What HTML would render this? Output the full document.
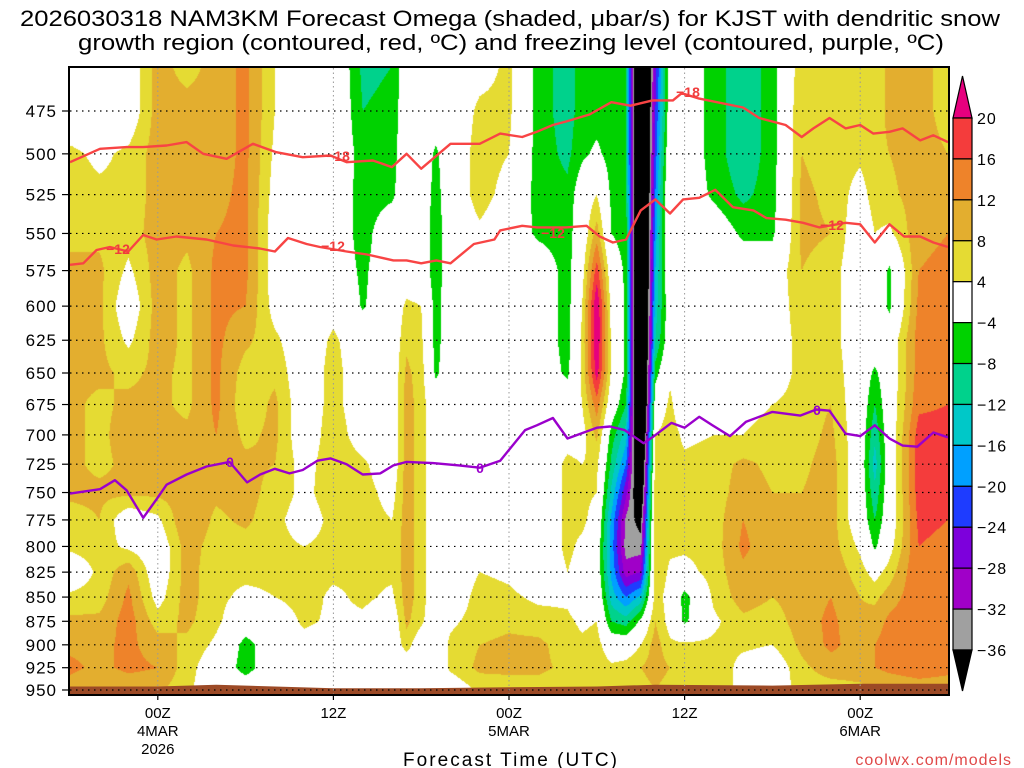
<!DOCTYPE html>
<html><head><meta charset="utf-8">
<style>
html,body{margin:0;padding:0;background:#fff;width:1024px;height:768px;overflow:hidden}
#wrap{position:relative;width:1024px;height:768px}
#field{position:absolute;left:70px;top:68px}
#ov{position:absolute;left:0;top:0}
text{font-family:"Liberation Sans",sans-serif}
</style></head><body>
<div id="wrap">
<canvas id="field" width="878" height="626"></canvas>
<svg id="ov" width="1024" height="768"></svg>
</div>
<script>
// ---- data ----
const levels = [450,475,500,525,550,575,600,625,650,675,700,725,750,775,800,825,850,875,900,925,950];
const hours = [0,2,4,6,8,10,12,14,16,18,20,22,23,24,25,26,28,30,32,34,35,36,37,38,39,40,41,42,44,46,48,50,52,54,55,56,58,60];
const omegaColumns = [
[0,0,5,6,7,9,9,9,9,9,9,9,9,6,5,0,5,9,11,13,10],
[0,0,3,5,7,9,9,9,9,7,7,7,9,8,6,5,6,9,11,11,8],
[0,0,5,5,6,3,0,3,7,9,10,9,9,0,3,11,13,14,13,13,9],
[10,10,10,10,10,10,10,10,9,9,9,9,9,3,0,0,2,6,10,12,9],
[6,10,10,10,9,7,7,7,7,7,9,10,10,12,10,10,10,9,7,6,5],
[10,10,10,11,12,13,13,13,13,13,12,10,9,7,6,5,5,5,3,0,0],
[13,13,13,13,13,13,12,9,6,5,7,9,10,9,6,5,3,0,-6,-6,0],
[4,4,3,2,1,1,2,5,7,9,9,8,6,5,5,5,4,0,0,0,0],
[0,0,0,0,0,0,0,0,0,0,0,2,3,2,4,6,6,5,2,0,0],
[2,2,1,0,0,0,2,5,6,6,7,7,6,5,5,5,3,3,0,0,0],
[-9,-8,-6,-6,-6,-5,-4.5,0,0,0,1,5,6,6,5,5,5,3,0,0,0],
[-8,-7,-6,-5,0,0,0,0,0,0,0,0,2,4,5,5,3,0,0,0,0],
[0,0,0,0,0,0,5,7,9,10,10,10,10,10,10,10,10,9,6,0,0],
[0,0,0,0,0,0,4,5,6,6,6,6,6,6,6,6,6,5,0,0,0],
[0,0,-5,-6,-7,-7,-6,-6,-5,0,0,0,0,0,0,0,0,0,0,0,0],
[0,0,0,0,0,0,0,0,0,0,0,0,0,0,0,0,0,3,5,5,0],
[2,5,6,6,3,0,0,0,0,0,0,0,0,0,0,4,6,6,8,9,5],
[5,5,4,2,0,0,0,0,0,0,0,0,0,0,0,3,5,7,9,9,6],
[-6,-6,-6,-6,-5,0,0,0,0,0,0,0,0,0,0,0,3,6,9,9,6],
[-10,-10,-9,-7,-6,-6,-6,-6,-5,0,2,5,5,5,5,4,3,5,6,7,5],
[-6,-6,-5,0,0,2,4,5,5,4,2,4,5,5,3,2,0,3,5,7,5],
[-6,-6,-3,4,10,18,24,24,22,14,9,5,4,2,0,0,2,4,6,7,5],
[-6,-6,-6,-5,-4,0,2,3,3,0,-6,-9,-13,-17,-18,-17,-14,-8,0,5,5],
[-8,-8,-8,-7,-6,-5,-5,-5,-5,-8,-14,-20,-27,-33,-34,-30,-20,-10,0,6,6],
[-60,-60,-60,-60,-60,-60,-60,-60,-60,-60,-55,-50,-45,-38,-34,-28,-15,-3,4,8,6],
[-26,-24,-22,-20,-18,-16,-14,-12,-6,0,4,6,8,8,8,8,6,8,10,10,8],
[0,0,2,4,4,2,0,0,3,5,6,6,6,6,5,3,2,2,5,8,6],
[0,0,0,0,0,0,0,0,0,0,3,5,6,8,5,2,-6,-5,5,8,6],
[-6,-6,-6,-5,0,0,0,0,0,0,4,6,6,6,6,6,5,3,5,8,6],
[-11,-11,-11,-9,-5,0,0,0,0,2,4,9,10,12,13,11,10,7,5,2,3],
[-6,-6,-6,-6,-5,0,0,0,0,4,6,7,8,9,9,9,8,6,4,0,0],
[7,8,8,9,9,8,7,6,6,6,6,7,8,9,10,10,10,10,9,7,6],
[6,6,6,7,8,6,6,6,7,8,9,10,10,10,10,11,12,13,13,10,6],
[6,6,5,2,0,0,0,0,0,0,0,0,0,0,3,6,8,9,10,10,7],
[6,6,7,6,4,2,0,0,-5,-8,-11,-14,-11,-8,-5,2,7,10,12,12,8],
[9,9,8,7,3,-5,-5,0,0,0,0,0,0,0,2,6,10,13,14,13,9],
[10,10,10,10,11,12,13,14,14,15,18,18,18,17,16,16,15,15,15,14,10],
[6,6,8,10,12,13,14,14,15,16,18,18,17,16,15,14,14,15,14,13,10]
];
const red18Hours = [0,2.05,3.87,5,6.6,7.97,9.1,10.7,12.5,14.1,15.9,17.8,18.9,20.7,22,23,24,26,28,29.4,30.9,31.9,33,33.9,35.5,37,38.3,39.8,41.2,41.8,43,46,47.1,48.9,50,50.8,51.9,53,54,54.9,56,56.9,58.1,59,60];
const red18P = [505,497,496,496,495,493,500,503,494,499,502,501,505,504,508,500,509,494,494,488,490,487,483,481,477,470,472,469,469,465,468,473,479,483,490,485,479,485,483,488,487,485,492,489,493];
const red12Hours = [0,0.91,1.82,2.73,3.98,5.0,5.92,7.28,9.33,11.15,12.97,14.0,14.9,16.17,17.08,18.9,20.3,22.1,23.0,24.0,25.04,26.0,27.6,29.0,29.4,30.9,31.9,33.9,35.3,36.2,37.1,38.0,39.0,40.0,41.0,41.9,43.0,44.1,45.3,46.7,47.6,48.9,50.1,51.2,53.0,54.0,55.0,56.0,57.0,58.1,59.0,60];
const red12P = [571,570,561,559,562,551,554,552,554,558,560,562,553,557,559,562,564,568,568,570,568,570,557,554,548,545,546,546,545,552,556,554,535,528,537,528,527,522,533,535,540,541,543,546,543,544,556,544,552,552,556,559];
const frzHours = [0,2.05,3.07,3.87,5.0,5.92,6.6,7.97,9.33,10.9,12.1,13.0,14.0,15.0,15.9,16.9,17.8,18.9,20.0,21.2,22.1,23.0,24.8,26.6,28.0,29.4,31.1,31.9,33.0,34.0,36.0,36.9,37.9,39.2,39.8,41.1,42.0,43.0,43.9,45.1,46.2,48.0,49.9,51.0,51.9,53.0,54.0,55.0,56.0,56.9,57.9,59.0,60];
const frzP = [751,747,739,748,773,756,743,734,727,723,741,734,729,733,730,722,720,725,734,733,726,723,724,726,728,722,696,692,686,703,694,693,696,707,702,690,694,685,692,701,689,681,684,679,680,699,701,692,703,709,710,698,702];
const sfcHours = [0,6,10,14,18,24,30,36,40,48,54,60];
const sfcP = [946,946,944,946,948,948,947,946,944,945,943,943];
const yTicks = [475,500,525,550,575,600,625,650,675,700,725,750,775,800,825,850,875,900,925,950];
const xTickHours = [6,18,30,42,54];
const xTickLabels = [["00Z","4MAR","2026"],["12Z"],["00Z","5MAR"],["12Z"],["00Z","6MAR"]];
const cbBounds = [20,16,12,8,4,-4,-8,-12,-16,-20,-24,-28,-32,-36];
const cbColors = ["#f43c3c","#ee832a","#e3ae2f","#e5db33","#ffffff","#00d200","#00d28c","#00c8c8","#00a0ff","#1e3cff","#7d00dc","#a000c8","#a0a0a0"];
const overColor = "#e6007e", underColor = "#000000";

// ---- scales ----
const PL=70, PR=948, PT=68, PB=694;
function xS(h){return PL + h*(PR-PL)/60;}
function yS(p){return 111 + Math.log(p/475)*835.3;}
function colorFor(v){
  if(v>20) return overColor;
  if(v<-36) return underColor;
  for(let i=0;i<cbBounds.length-1;i++){ if(v<=cbBounds[i] && v>cbBounds[i+1]) return cbColors[i]; }
  return "#ffffff";
}
function hex(c){return [parseInt(c.substr(1,2),16),parseInt(c.substr(3,2),16),parseInt(c.substr(5,2),16)];}

// ---- shading ----
(function(){
  const cv=document.getElementById('field'), ctx=cv.getContext('2d');
  const W=cv.width,H=cv.height, img=ctx.createImageData(W,H);
  const lnL=levels.map(Math.log);
  const rowIdx=[],rowF=[];
  for(let y=0;y<H;y++){
    const lp=Math.log(475)+((PT+y+0.5)-111)/835.3;
    let i=0; while(i<lnL.length-2 && lp>lnL[i+1]) i++;
    let f=(lp-lnL[i])/(lnL[i+1]-lnL[i]); f=Math.max(0,Math.min(1,f));
    rowIdx.push(i); rowF.push(f);
  }
  const cache={};
  for(let x=0;x<W;x++){
    const h=(x+0.5)*60/W;
    let j=0; while(j<hours.length-2 && h>hours[j+1]) j++;
    let g=(h-hours[j])/(hours[j+1]-hours[j]); g=Math.max(0,Math.min(1,g));
    const A=omegaColumns[j],B=omegaColumns[j+1];
    for(let y=0;y<H;y++){
      const i=rowIdx[y],f=rowF[y];
      const a=A[i]*(1-f)+A[i+1]*f, b=B[i]*(1-f)+B[i+1]*f;
      const v=a*(1-g)+b*g;
      const c=colorFor(v); const rgb=cache[c]||(cache[c]=hex(c));
      const k=(y*W+x)*4; img.data[k]=rgb[0];img.data[k+1]=rgb[1];img.data[k+2]=rgb[2];img.data[k+3]=255;
    }
  }
  ctx.putImageData(img,0,0);
})();

// ---- svg overlay ----
const NS="http://www.w3.org/2000/svg", svg=document.getElementById('ov');
function mk(tag,attrs,parent){const e=document.createElementNS(NS,tag);for(const k in attrs)e.setAttribute(k,attrs[k]);(parent||svg).appendChild(e);return e;}
function txt(s,attrs,parent){const e=mk('text',attrs,parent);e.textContent=s;return e;}

// surface
let sp='M'+xS(0)+','+PB;
sfcHours.forEach((h,i)=>{sp+=' L'+xS(h).toFixed(1)+','+yS(sfcP[i]).toFixed(1);});
sp+=' L'+xS(60)+','+PB+' Z';
const sfc=mk('path',{d:sp,fill:'#9c4a26'});



// grid
const grid=mk('g',{});


yTicks.forEach(p=>{mk('line',{x1:PL,x2:PR,y1:yS(p),y2:yS(p),stroke:'#000','stroke-width':1.2,'stroke-dasharray':'1.5,4.5'},grid);});
xTickHours.forEach(h=>{mk('line',{x1:xS(h),x2:xS(h),y1:PT,y2:PB,stroke:'#999','stroke-width':1,'stroke-dasharray':'1.5,3'},grid);});

// contour lines
function line(hs,ps,color,name){
  let d=''; hs.forEach((h,i)=>{d+=(i?' L':'M')+xS(h).toFixed(1)+','+yS(ps[i]).toFixed(1);});
  const e=mk('path',{d:d,fill:'none',stroke:color,'stroke-width':2.4,'stroke-linejoin':'round'});
  
  
}
line(red18Hours,red18P,'#f84444','contour-minus18');
line(red12Hours,red12P,'#f84444','contour-minus12');
line(frzHours,frzP,'#9a00cc','freezing-level-0');
const cl=[["-18",338,161,'#f03c3c'],["-18",688,97,'#f03c3c'],["-12",118,254,'#f03c3c'],["-12",333,251,'#f03c3c'],["-12",553,238,'#f03c3c'],["-12",832,230,'#f03c3c'],["0",230,467,'#9a00cc'],["0",480,473,'#9a00cc'],["0",817,415,'#9a00cc']];
cl.forEach(c=>{const t=txt(c[0].replace('-','\u2212'),{x:c[1],y:c[2],'text-anchor':'middle','font-size':14,'font-weight':'bold',fill:c[3]});

});

// frame
const fr=mk('rect',{x:PL-1,y:PT-1,width:PR-PL+2,height:PB-PT+2,fill:'none',stroke:'#000','stroke-width':2});



// y ticks
yTicks.forEach(p=>{
  mk('line',{x1:62,x2:PL,y1:yS(p),y2:yS(p),stroke:'#000','stroke-width':1.2});
  const t=txt(String(p),{x:57,y:yS(p)+6,'text-anchor':'end','font-size':17,'letter-spacing':1,fill:'#000'});
  
  
});
// x ticks
xTickHours.forEach((h,i)=>{
  mk('line',{x1:xS(h),x2:xS(h),y1:PB,y2:PB+6,stroke:'#000','stroke-width':1.2});
  xTickLabels[i].forEach((s,k)=>{
    const t=txt(s,{x:xS(h),y:718+k*18,'text-anchor':'middle','font-size':15,fill:'#000'});
    
    
  });
});
const xt=txt('Forecast Time (UTC)',{x:510,y:766,'text-anchor':'middle','font-size':19,textLength:214,fill:'#000'});


const cr=txt('coolwx.com/models',{x:1012,y:765,'text-anchor':'end','font-size':16,'letter-spacing':1,fill:'#e04848'});


const t1=txt('2026030318 NAM3KM Forecast Omega (shaded, \u03bcbar/s) for KJST with dendritic snow',{x:20,y:26,'font-size':22,textLength:980,lengthAdjust:'spacingAndGlyphs',fill:'#000'});


const t2=txt('growth region (contoured, red, \u00baC) and freezing level (contoured, purple, \u00baC)',{x:78,y:50,'font-size':22,textLength:866,lengthAdjust:'spacingAndGlyphs',fill:'#000'});



// colorbar
const cb=mk('g',{});


const cbx=953,cbw=19,cbTop=118,cbH=(650-118)/(cbBounds.length-1);
mk('polygon',{points:cbx+','+cbTop+' '+(cbx+cbw)+','+cbTop+' '+(cbx+cbw/2)+',76',fill:overColor,stroke:'#000','stroke-width':1.2},cb);
cbColors.forEach((c,i)=>{mk('rect',{x:cbx,y:cbTop+i*cbH,width:cbw,height:cbH,fill:c,stroke:'#000','stroke-width':1.2},cb);});
mk('polygon',{points:cbx+','+650+' '+(cbx+cbw)+','+650+' '+(cbx+cbw/2)+',691',fill:underColor,stroke:'#000','stroke-width':1.2},cb);
cbBounds.forEach((b,i)=>{
  const t=txt(String(b).replace('-','\u2212'),{x:977,y:cbTop+i*cbH+6,'font-size':16,'letter-spacing':1,fill:'#000'},cb);
  
  
});
</script>
</body></html>
